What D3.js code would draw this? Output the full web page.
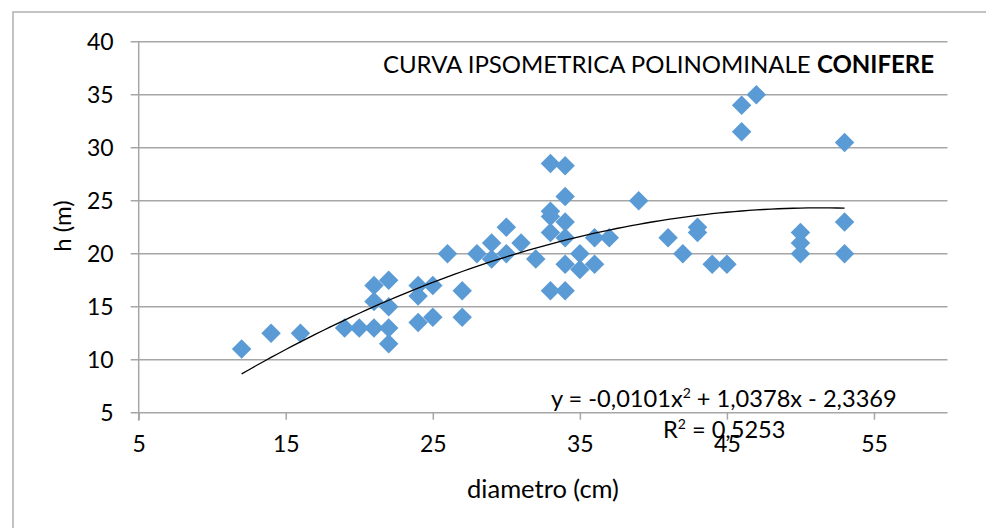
<!DOCTYPE html>
<html>
<head>
<meta charset="utf-8">
<script src="https://cdn.jsdelivr.net/npm/d3@7"></script>
<style>
  html, body { margin: 0; padding: 0; background: #fff; }
  svg { display: block; }
  text { font-family: Lato, "Open Sans", sans-serif; fill: #000; }
</style>
</head>
<body>
<script>
// ---- data ----
const diametro = [12,14,16,19,20,21,21,21,22,22,22,22,24,24,24,25,25,26,27,27,28,29,29,30,30,31,32,
  33,33,33,33,33,34,34,34,34,34,34,35,35,36,36,37,39,41,42,43,43,44,45,46,46,47,50,50,50,53,53,53];
const altezza = [11,12.5,12.5,13,13,13,15.5,17,13,11.5,15,17.5,17,16,13.5,17,14,20,16.5,14,20,21,19.5,22.5,20,21,19.5,
  28.5,24,23.5,22,16.5,28.3,25.4,23,21.5,19,16.5,20,18.5,21.5,19,21.5,25,21.5,20,22.5,22,19,19,34,31.5,35,22,21,20,30.5,23,20];
const trendCoef = [-0.0101, 1.0378, -2.3369]; // a x^2 + b x + c
const trendRange = [12, 53];
const xTicks = [5, 15, 25, 35, 45, 55];
const yTicks = [5, 10, 15, 20, 25, 30, 35, 40];
const titleText = ["CURVA IPSOMETRICA POLINOMINALE ", "CONIFERE"];
const xLabel = "diametro (cm)";
const yLabel = "h (m)";
const eqText = "y = -0,0101x";
const eqText2 = " + 1,0378x - 2,3369";
const r2Text = "R";
const r2Val = " = 0,5253";

// ---- chart ----
const W = 986, H = 528;
const svg = d3.select("body").append("svg").attr("width", W).attr("height", H);
svg.append("rect").attr("width", W).attr("height", H).attr("fill", "#fff");
svg.append("rect").attr("x", 13).attr("y", 12).attr("width", 1100).attr("height", 700)
  .attr("fill", "none").attr("stroke", "#b0b0b0").attr("stroke-width", 1.5);

const x = d3.scaleLinear().domain([5, 60]).range([138.7, 947.5]);
const y = d3.scaleLinear().domain([5, 40]).range([412.7, 41.7]);
const gridColor = "#a6a6a6";

// gridlines
svg.append("g").selectAll("line").data(yTicks).join("line")
  .attr("x1", x(5) - 8).attr("x2", x(60))
  .attr("y1", d => y(d)).attr("y2", d => y(d))
  .attr("stroke", gridColor).attr("stroke-width", 1.5);

// y axis
const yAxis = svg.append("g").attr("transform", `translate(${x(5)},0)`)
  .call(d3.axisLeft(y).tickValues(yTicks).tickSize(0).tickPadding(25).tickFormat(d3.format("d")));
yAxis.select(".domain").remove();
yAxis.selectAll("text").attr("font-size", 23).attr("font-family", "Lato").attr("dy", "0.36em");
svg.append("line").attr("x1", x(5)).attr("x2", x(5)).attr("y1", y(40)).attr("y2", y(5) + 8)
  .attr("stroke", gridColor).attr("stroke-width", 1.5);

// x axis
const xAxis = svg.append("g").attr("transform", `translate(0,${y(5)})`)
  .call(d3.axisBottom(x).tickValues(xTicks).tickSize(7).tickPadding(16).tickFormat(d3.format("d")));
xAxis.select(".domain").remove();
xAxis.selectAll(".tick line").attr("stroke", gridColor).attr("stroke-width", 1.5);
xAxis.selectAll("text").attr("font-size", 23).attr("font-family", "Lato");

// points
const pts = diametro.map((d, i) => [d, altezza[i]]);
svg.append("g").selectAll("path").data(pts).join("path")
  .attr("d", d3.symbol(d3.symbolSquare, 190))
  .attr("transform", d => `translate(${x(d[0])},${y(d[1])}) rotate(45)`)
  .attr("fill", "#5b9bd5");

// trendline
const f = v => trendCoef[0] * v * v + trendCoef[1] * v + trendCoef[2];
const xs = d3.range(trendRange[0], trendRange[1] + 0.001, 0.5);
svg.append("path").datum(xs)
  .attr("d", d3.line().x(v => x(v)).y(v => y(f(v))))
  .attr("fill", "none").attr("stroke", "#000").attr("stroke-width", 1.3);

// title
const t = svg.append("text").attr("x", 934).attr("y", 73).attr("text-anchor", "end").attr("font-size", 24);
t.append("tspan").text(titleText[0]);
t.append("tspan").attr("font-weight", "bold").text(titleText[1]);

// axis titles
svg.append("text").attr("x", 543).attr("y", 498).attr("text-anchor", "middle").attr("font-size", 25.5).text(xLabel);
svg.append("text").attr("transform", "translate(71,226) rotate(-90)").attr("text-anchor", "middle")
  .attr("font-size", 24).text(yLabel);

// equation
const eq = svg.append("text").attr("x", 551).attr("y", 407).attr("font-size", 23.6);
eq.append("tspan").text(eqText);
eq.append("tspan").attr("font-size", 14).attr("dy", -9).text("2");
eq.append("tspan").attr("dy", 9).text(eqText2);
const r2 = svg.append("text").attr("x", 663).attr("y", 438).attr("font-size", 23.6);
r2.append("tspan").text(r2Text);
r2.append("tspan").attr("font-size", 14).attr("dy", -9).text("2");
r2.append("tspan").attr("dy", 9).text(r2Val);
</script>
</body>
</html>
